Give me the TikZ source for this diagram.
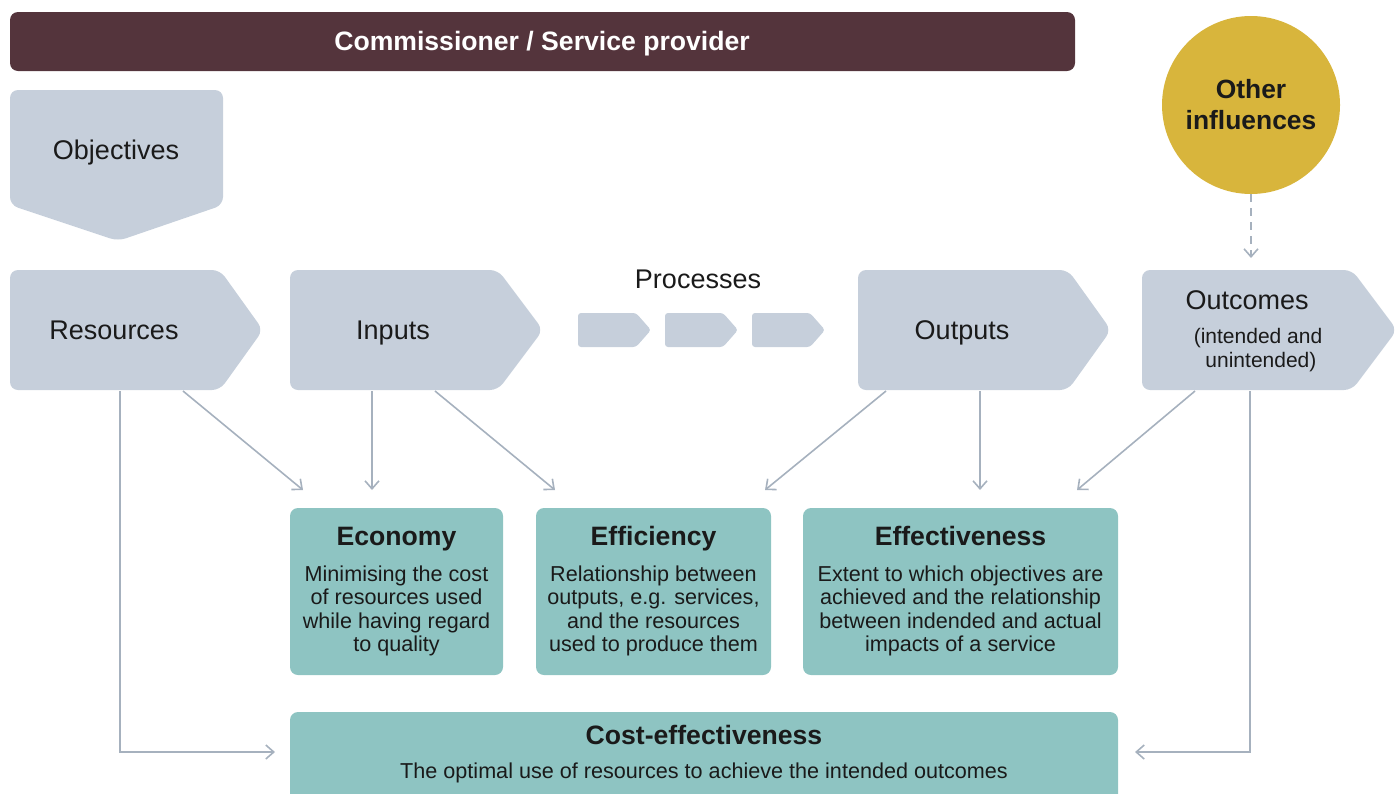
\documentclass[tikz,border=0pt]{standalone}
\usepackage{fontspec}
\setmainfont{Liberation Sans}
\usetikzlibrary{arrows.meta}
\definecolor{hdr}{HTML}{54343C}
\definecolor{greybox}{HTML}{C6CFDB}
\definecolor{teal}{HTML}{8EC4C2}
\definecolor{gold}{HTML}{D8B53C}
\definecolor{arr}{HTML}{A6B1BE}
\definecolor{txt}{HTML}{1A1A1A}
\newcommand{\chev}[7]{% name, x1, x2 (tip start), x3 (tip), ytop, ybot, corner radius
  \fill[greybox,rounded corners=#7] (#2,#5) -- (#3,#5) -- (#4,{(#5+#6)/2}) -- (#3,#6) -- (#2,#6) -- cycle;
  \coordinate (#1) at ({(#2+#3)/2},{(#5+#6)/2});
}
\begin{document}
\begin{tikzpicture}[x=0.5pt,y=-0.5pt,
  lbl/.style={text=txt,font=\fontsize{13.5}{16}\selectfont,inner sep=0,anchor=base},
  ttl/.style={text=txt,font=\bfseries\fontsize{13.3}{16}\selectfont,inner sep=0,anchor=base},
  body/.style={text=txt,font=\fontsize{10.8}{11.75}\selectfont,align=center,inner sep=0},
  conn/.style={draw=arr,line width=0.8pt,-{Straight Barb[length=4pt,width=7pt]}},
  tealbox/.style={fill=teal,rounded corners=4pt}]
\useasboundingbox (0,0) rectangle (1400,793);
% header
\fill[hdr,rounded corners=4pt] (10,12) rectangle (1075,71);
\node[text=white,font=\bfseries\fontsize{13.3}{16}\selectfont,inner sep=0,anchor=base] (hdrtext) at (542,50) {Commissioner / Service provider};
% objectives
\fill[greybox,rounded corners=4pt] (10,90) -- (223,90) -- (223,205) -- (118,241) -- (10,205) -- cycle;
\node[lbl] (obj) at (116,159) {Objectives};
% chevrons
\chev{res}{10}{220}{263}{270}{390}{4pt}
\node[lbl] (restext) at (114,339) {Resources};
\chev{inp}{290}{498}{543}{270}{390}{4pt}
\node[lbl] (inptext) at (393,339) {Inputs};
\node[lbl] (proc) at (698,288) {Processes};
\chev{p1}{578}{636}{651}{313}{347}{1.5pt}
\chev{p2}{665}{723}{738}{313}{347}{1.5pt}
\chev{p3}{752}{810}{825}{313}{347}{1.5pt}
\chev{outp}{858}{1068}{1111}{270}{390}{4pt}
\node[lbl] (outptext) at (962,339) {Outputs};
\chev{outc}{1142}{1352}{1397}{270}{390}{4pt}
\node[lbl] (outctext) at (1247,309) {Outcomes};
\node[body,font=\fontsize{10.5}{11.6}\selectfont] (outcsub) at (1258,350) {(intended and\\ \ unintended)};
% other influences
\node[circle,fill=gold,minimum size=89pt,inner sep=0,align=center,text=txt,font=\bfseries\fontsize{13.2}{15.5}\selectfont] (oth) at (1251,105) {Other\\influences};
\coordinate (othin) at (1251,258);
\draw[conn,dashed,dash pattern=on 4pt off 3pt] (oth.south) -- (othin);
% teal boxes
\fill[tealbox] (290,508) rectangle (503,675);
\node[ttl] (eco) at (396.5,545) {Economy};
\node[body,anchor=north] (ecob) at (396.5,565) {Minimising the cost\\of resources used\\while having regard\\to quality};
\fill[tealbox] (536,508) rectangle (771,675);
\node[ttl] (eff) at (653.5,545) {Efficiency};
\node[body,anchor=north] (effb) at (653.5,565) {Relationship between\\outputs, e.g. services,\\and the resources\\used to produce them};
\fill[tealbox] (803,508) rectangle (1118,675);
\node[ttl] (efv) at (960.5,545) {Effectiveness};
\node[body,anchor=north] (efvb) at (960.5,565) {Extent to which objectives are\\achieved and the relationship\\between indended and actual\\impacts of a service};
\fill[tealbox] (290,712) rectangle (1118,805);
\node[ttl] (ce) at (704,744) {Cost-effectiveness};
\node[body] (ceb) at (704,773) {The optimal use of resources to achieve the intended outcomes};
% connector coordinates
\coordinate (resA) at (120,391);
\coordinate (resB) at (183,391);
\coordinate (inpA) at (372,391);
\coordinate (inpB) at (435,391);
\coordinate (outpA) at (886,391);
\coordinate (outpB) at (980,391);
\coordinate (outcA) at (1195,391);
\coordinate (outcB) at (1250,391);
\coordinate (ecoT1) at (303,490);
\coordinate (ecoT2) at (372,490);
\coordinate (effT1) at (555,490);
\coordinate (effT2) at (765,490);
\coordinate (efvT1) at (980,490);
\coordinate (efvT2) at (1077,490);
\coordinate (ceL) at (275,752);
\coordinate (ceR) at (1135,752);
\draw[conn] (resB) -- (ecoT1);
\draw[conn] (inpA) -- (ecoT2);
\draw[conn] (inpB) -- (effT1);
\draw[conn] (outpA) -- (effT2);
\draw[conn] (outpB) -- (efvT1);
\draw[conn] (outcA) -- (efvT2);
\draw[conn] (resA) |- (ceL);
\draw[conn] (outcB) |- (ceR);
\end{tikzpicture}
\end{document}
